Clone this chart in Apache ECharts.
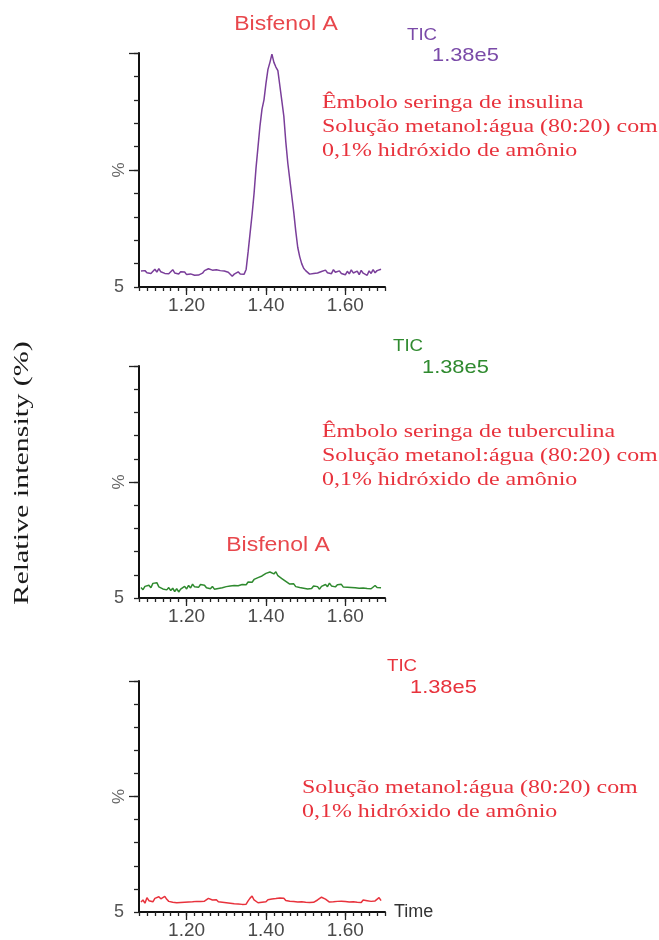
<!DOCTYPE html>
<html>
<head>
<meta charset="utf-8">
<script src="https://cdn.jsdelivr.net/npm/echarts@6/dist/echarts.min.js"></script>
<style>html,body{margin:0;padding:0;background:#fff;}#c{width:659px;height:940px;}</style>
</head>
<body>
<div id="c"></div>
<script>
// Retention time (min)
var times = [
1.085,1.090,1.095,1.100,1.105,1.110,1.115,1.120,1.125,1.130,
1.135,1.140,1.145,1.150,1.155,1.160,1.165,1.170,1.175,1.180,
1.185,1.190,1.195,1.200,1.205,1.210,1.215,1.220,1.225,1.230,
1.235,1.240,1.245,1.250,1.255,1.260,1.265,1.270,1.275,1.280,
1.285,1.290,1.295,1.300,1.305,1.310,1.315,1.320,1.325,1.330,
1.335,1.340,1.345,1.350,1.355,1.360,1.365,1.370,1.375,1.380,
1.385,1.390,1.395,1.400,1.405,1.410,1.415,1.420,1.425,1.430,
1.435,1.440,1.445,1.450,1.455,1.460,1.465,1.470,1.475,1.480,
1.485,1.490,1.495,1.500,1.505,1.510,1.515,1.520,1.525,1.530,
1.535,1.540,1.545,1.550,1.555,1.560,1.565,1.570,1.575,1.580,
1.585,1.590,1.595,1.600,1.605,1.610,1.615,1.620,1.625,1.630,
1.635,1.640,1.645,1.650,1.655,1.660,1.665,1.670,1.675,1.680,
1.685,1.690];

// Relative intensity (%) – insulin syringe plunger
var insulinaValues = [
6.8,6.2,7.0,6.1,6.9,5.8,6.6,7.6,6.4,7.9,
6.5,7.2,5.8,6.6,5.7,6.3,7.4,6.0,6.8,5.6,
6.5,5.9,6.4,5.3,5.0,5.6,5.2,5.0,5.5,5.1,
5.7,5.9,7.0,6.6,7.8,8.3,7.2,7.9,7.4,7.7,
7.0,7.5,6.8,6.9,6.3,6.7,4.6,5.5,6.2,6.5,
5.6,5.8,5.5,7.5,15,23,31,40,51,60,
69,76,80,87,93,96,99.5,96,94,92.5,
86,79.5,73,62,53,46,39,32,24,17,
13,10,8,7,6.2,5.5,5.0,5.8,5.2,6.0,
5.4,6.6,5.9,7.2,6.1,6.8,5.7,7.4,6.3,5.5,
6.9,5.8,6.4,5.2,6.7,5.6,7.3,6.0,5.4,6.8,
5.3,7.1,5.9,6.5,5.0,6.9,5.8,7.4,6.1,7.0,
6.4,7.6];

// tuberculin syringe plunger
var tuberculinaValues = [
4.5,3.6,5.0,4.2,5.5,4.4,6.3,5.6,6.6,4.8,
5.4,3.9,4.7,3.5,4.5,3.2,4.2,2.8,4.0,2.6,
3.8,3.3,5.0,3.9,5.4,4.3,6.0,4.8,5.3,4.6,
5.8,5.1,5.5,4.4,5.2,4.0,5.0,3.8,4.6,4.1,
3.4,4.4,3.6,4.9,4.3,5.2,4.6,5.4,4.8,5.3,
4.9,5.8,6.2,5.7,6.9,7.4,6.8,8.0,7.6,8.8,
8.2,9.5,9.0,10.6,9.8,11.2,12.0,10.4,11.3,9.6,
10.2,8.4,9.0,7.2,7.8,6.0,5.5,6.1,4.9,5.4,
4.5,5.0,4.2,4.7,3.9,4.6,4.1,5.2,4.4,4.9,
3.8,5.0,4.3,5.8,4.9,6.4,5.2,6.0,4.8,5.7,
5.0,5.9,4.7,5.5,4.6,5.3,4.5,5.1,4.4,4.9,
4.2,5.0,4.3,4.8,4.1,4.6,4.0,4.7,5.4,4.5,
4.9,4.4];

// solvent blank
var brancoValues = [
4.3,5.2,3.8,6.2,4.9,5.6,4.4,5.9,5.3,6.6,
5.7,5.0,6.8,5.5,4.6,5.1,4.2,4.7,4.0,4.5,
4.1,4.6,4.2,4.8,4.3,4.9,4.4,5.2,4.6,5.0,
4.5,5.1,4.7,5.4,5.9,6.4,5.2,4.6,5.3,4.4,
4.9,4.2,4.6,4.0,4.5,3.8,4.3,3.6,4.1,3.5,
3.9,3.3,4.0,3.4,4.8,6.0,6.9,5.2,4.5,4.0,
4.6,4.2,5.0,4.4,5.3,4.8,5.6,4.9,5.8,5.1,
6.1,5.3,6.0,5.0,5.7,4.7,5.2,4.5,4.9,4.3,
4.8,4.4,4.7,4.2,4.6,4.1,4.5,4.2,4.9,5.2,
5.8,6.4,6.9,5.6,4.8,4.3,4.9,4.4,5.0,4.6,
5.3,4.7,5.1,4.5,4.9,4.3,4.8,4.4,5.0,4.2,
4.7,4.1,5.2,4.5,4.9,4.3,4.6,4.0,4.8,5.6,
6.2,4.9];

var xMajorTicks = [1.20, 1.40, 1.60];
var yLongTicks = [50, 100];
var ticLabel = 'TIC';
var ticValue = '1.38e5';

var grids = [
  {top: 53, height: 234},
  {top: 366, height: 232},
  {top: 681, height: 233}
];
var seriesDefs = [
  {name: 'insulina', values: insulinaValues, color: '#7a3e9a'},
  {name: 'tuberculina', values: tuberculinaValues, color: '#2f8a2f'},
  {name: 'branco', values: brancoValues, color: '#e8323c'}
];

var option = {
  animation: false,
  backgroundColor: '#ffffff',
  grid: [], xAxis: [], yAxis: [], series: [], graphic: []
};

grids.forEach(function (g, i) {
  option.grid.push({left: 139, width: 246, top: g.top, height: g.height});
  // minor ticks axis
  option.xAxis.push({
    type: 'value', gridIndex: i, position: 'bottom', min: 1.08, max: 1.70, interval: 0.02,
    axisLine: {show: true, onZero: false, lineStyle: {color: '#111', width: 2}},
    axisTick: {show: true, length: 4, lineStyle: {color: '#222', width: 1.3}},
    axisLabel: {show: false}, splitLine: {show: false},
    name: i === 2 ? 'Time' : '', nameLocation: 'end', nameGap: 9,
    nameTextStyle: {color: '#333', fontSize: 18, fontFamily: 'Arial, Liberation Sans', verticalAlign: 'middle'}
  });
  // major ticks + labels axis
  option.xAxis.push({
    type: 'value', gridIndex: i, position: 'bottom', min: 1.08, max: 1.70,
    axisLine: {show: false, onZero: false},
    axisTick: {show: true, length: 8, customValues: xMajorTicks, lineStyle: {color: '#222', width: 1.3}},
    axisLabel: {show: true, customValues: xMajorTicks, margin: 9, color: '#4a4a4a', fontSize: 19,
      fontFamily: 'Arial, Liberation Sans', formatter: function (v) { return v.toFixed(2); }},
    splitLine: {show: false}
  });
  option.yAxis.push({
    type: 'value', gridIndex: i, position: 'left', min: 0, max: 100, interval: 10,
    axisLine: {show: true, onZero: false, lineStyle: {color: '#111', width: 2}},
    axisTick: {show: true, length: 5, lineStyle: {color: '#222', width: 1.3}},
    axisLabel: {show: true, customValues: [0], margin: 15, color: '#555', fontSize: 18,
      fontFamily: 'Arial, Liberation Sans', formatter: function () { return '5'; }},
    splitLine: {show: false},
    name: '%', nameLocation: 'middle', nameRotate: 90, nameGap: 11, nameMoveOverlap: false,
    nameTextStyle: {color: '#666', fontSize: 17, fontFamily: 'Arial, Liberation Sans'}
  });
  option.yAxis.push({
    type: 'value', gridIndex: i, position: 'left', min: 0, max: 100,
    axisLine: {show: false, onZero: false},
    axisTick: {show: true, length: 10, customValues: yLongTicks, lineStyle: {color: '#222', width: 1.3}},
    axisLabel: {show: false}, splitLine: {show: false}
  });
  var s = seriesDefs[i];
  option.series.push({
    type: 'line', name: s.name, xAxisIndex: i * 2, yAxisIndex: i * 2,
    data: times.map(function (t, k) { return [t, s.values[k]]; }),
    showSymbol: false, symbol: 'none',
    lineStyle: {color: s.color, width: 1.5}
  });
});

function txt(text, x, y, font, fill, align, sx, rot) {
  return {
    type: 'text', x: x, y: y, scaleX: sx || 1, rotation: rot || 0,
    style: {text: text, font: font, fill: fill, textAlign: align || 'left', textVerticalAlign: 'middle',
      align: align || 'left', verticalAlign: 'middle'}
  };
}
var serif = '19px "Liberation Serif", "Times New Roman", serif';
var sans = 'Arial, "Liberation Sans", sans-serif';
var red = '#e8323c';
option.graphic = [
  txt('Relative intensity (%)', 23, 473, '20px "Liberation Serif", serif', '#1a1a1a', 'center', 1.5, Math.PI / 2),
  // panel 1
  txt('Bisfenol A', 286, 24, '20px ' + sans, '#e8474c', 'center', 1.15),
  txt(ticLabel, 407, 35, '17px ' + sans, '#7a4aa8', 'left', 1.1),
  txt(ticValue, 432, 56, '19px ' + sans, '#7a4aa8', 'left', 1.15),
  txt('Êmbolo seringa de insulina', 322, 103, serif, red, 'left', 1.26),
  txt('Solução metanol:água (80:20) com', 322, 127, serif, red, 'left', 1.26),
  txt('0,1% hidróxido de amônio', 322, 151, serif, red, 'left', 1.26),
  // panel 2
  txt(ticLabel, 393, 346, '17px ' + sans, '#2f8a2f', 'left', 1.1),
  txt(ticValue, 422, 368, '19px ' + sans, '#2f8a2f', 'left', 1.15),
  txt('Êmbolo seringa de tuberculina', 322, 432, serif, red, 'left', 1.26),
  txt('Solução metanol:água (80:20) com', 322, 456, serif, red, 'left', 1.26),
  txt('0,1% hidróxido de amônio', 322, 480, serif, red, 'left', 1.26),
  txt('Bisfenol A', 278, 545, '20px ' + sans, '#e8474c', 'center', 1.15),
  // panel 3
  txt(ticLabel, 387, 666, '17px ' + sans, red, 'left', 1.1),
  txt(ticValue, 410, 688, '19px ' + sans, red, 'left', 1.15),
  txt('Solução metanol:água (80:20) com', 302, 788, serif, red, 'left', 1.26),
  txt('0,1% hidróxido de amônio', 302, 812, serif, red, 'left', 1.26)
];

var chart = echarts.init(document.getElementById('c'), null, {renderer: 'canvas'});
chart.setOption(option);
</script>
</body>
</html>
